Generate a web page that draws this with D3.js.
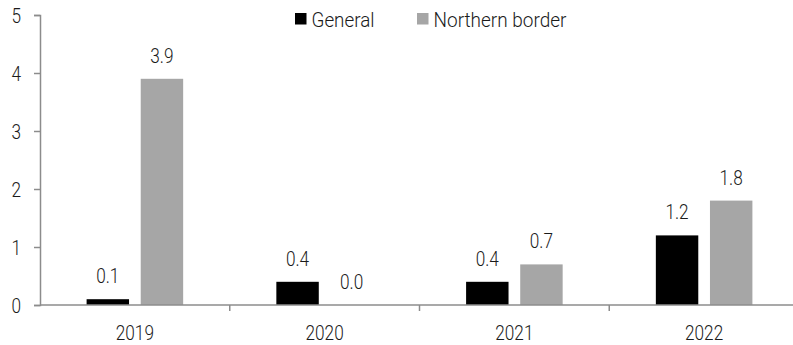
<!DOCTYPE html>
<html>
<head>
<meta charset="utf-8">
<script src="https://cdn.jsdelivr.net/npm/d3@7"></script>
<style>
  html, body { margin: 0; padding: 0; background: #fff; }
  svg text { font-family: Roboto, "Liberation Sans", sans-serif; font-weight: 300; fill: #1a1a1a; }
</style>
</head>
<body>
<svg id="chart" width="793" height="345"></svg>
<script>
const years = ["2019", "2020", "2021", "2022"];
const seriesNames = ["General", "Northern border"];
const general = [0.1, 0.4, 0.4, 1.2];
const northern = [3.9, 0.0, 0.7, 1.8];
const yTicks = [0, 1, 2, 3, 4, 5];
const colors = ["#000000", "#a6a6a6"];

const svg = d3.select("#chart");
const plot = { left: 40, right: 799, top: 15, bottom: 305 };
const fontSize = 20;

const x0 = d3.scaleBand().domain(years).range([plot.left, plot.right]).padding(0);
const x1 = d3.scaleBand().domain(seriesNames).range([0, x0.bandwidth()])
  .paddingInner(0.216).paddingOuter(0.861);
const y = d3.scaleLinear().domain([0, 5]).range([plot.bottom, plot.top]);

const rows = years.map((yr, i) => ({ year: yr, values: [general[i], northern[i]] }));

// bars
const groups = svg.append("g").selectAll("g").data(rows).join("g")
  .attr("transform", d => `translate(${x0(d.year)},0)`);

groups.selectAll("rect")
  .data(d => d.values.map((v, k) => ({ key: seriesNames[k], v, k })))
  .join("rect")
  .attr("x", d => x1(d.key))
  .attr("width", x1.bandwidth())
  .attr("y", d => y(d.v))
  .attr("height", d => y(0) - y(d.v))
  .attr("fill", d => colors[d.k]);

groups.selectAll("text.val")
  .data(d => d.values.map((v, k) => ({ key: seriesNames[k], v, k })))
  .join("text")
  .attr("class", "val")
  .attr("x", d => x1(d.key) + x1.bandwidth() / 2)
  .attr("y", d => y(d.v) - 16)
  .attr("text-anchor", "middle")
  .attr("font-size", fontSize)
  .text(d => d.v.toFixed(1));

// axes
const axisColor = "#8c8c8c";
const yAxis = svg.append("g").attr("transform", `translate(${plot.left},0)`)
  .call(d3.axisLeft(y).tickValues(yTicks).tickSize(6).tickPadding(13).tickFormat(d3.format("d")));
yAxis.select(".domain").attr("stroke", axisColor).attr("stroke-width", 1.5);
yAxis.selectAll(".tick line").attr("stroke", axisColor).attr("stroke-width", 1.5);
yAxis.selectAll(".tick text").attr("font-size", fontSize).attr("dy", "0.36em")
  .attr("font-family", null);

const xAxisG = svg.append("g").attr("transform", `translate(0,${plot.bottom})`);
xAxisG.append("line").attr("x1", plot.left).attr("x2", 793).attr("y1", 0).attr("y2", 0)
  .attr("stroke", axisColor).attr("stroke-width", 1.5);
xAxisG.selectAll("line.tick").data(years.slice(1)).join("line")
  .attr("class", "tick")
  .attr("x1", d => x0(d)).attr("x2", d => x0(d))
  .attr("y1", 0).attr("y2", 6)
  .attr("stroke", axisColor).attr("stroke-width", 1.5);
xAxisG.selectAll("text").data(years).join("text")
  .attr("x", d => x0(d) + x0.bandwidth() / 2)
  .attr("y", 34.5)
  .attr("text-anchor", "middle")
  .attr("font-size", fontSize)
  .text(d => d);

// narrow the numeric labels to a condensed width
svg.selectAll("text").each(function () {
  const w = this.getComputedTextLength();
  d3.select(this).attr("textLength", w * 0.86).attr("lengthAdjust", "spacingAndGlyphs");
});

// legend
const legendX = [295, 417];
const legendTextWidth = [63, 133];
const legend = svg.append("g").selectAll("g").data(seriesNames).join("g")
  .attr("transform", (d, i) => `translate(${legendX[i]},13)`);
legend.append("rect").attr("width", 11.5).attr("height", 11.5)
  .attr("fill", (d, i) => colors[i]);
legend.append("text").attr("x", 16.5).attr("y", 13.5)
  .attr("font-size", fontSize)
  .attr("textLength", (d, i) => legendTextWidth[i])
  .attr("lengthAdjust", "spacingAndGlyphs")
  .text(d => d);
</script>
</body>
</html>
